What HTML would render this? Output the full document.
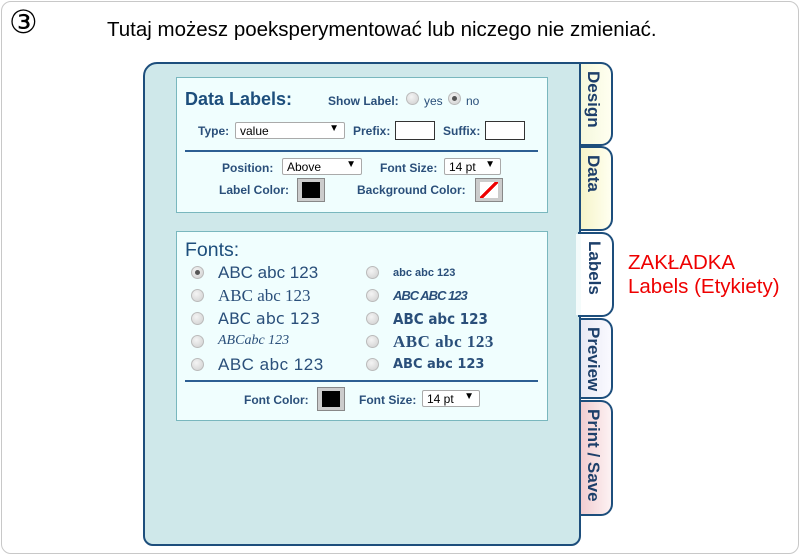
<!DOCTYPE html>
<html><head><meta charset="utf-8"><style>
*{margin:0;padding:0;box-sizing:border-box}
body{width:800px;height:555px;background:#fff;position:relative;overflow:hidden;font-family:"Liberation Sans",sans-serif}
.a{position:absolute;white-space:nowrap}
.outer{left:1px;top:1px;width:798px;height:553px;border:1px solid #c8c8c8;border-radius:10px}
.panel{left:143px;top:62px;width:438px;height:484px;background:#cfe8ea;border:2px solid #1d4e7c;border-radius:14px 0 10px 10px}
.box{background:#f0fefe;border:1px solid #79b7be}
.lbl{font-size:12px;font-weight:bold;color:#2a4f7a}
.sel{background:#fff;border:1px solid #aaa;font-size:12px;color:#000;height:17px;padding:1px 4px;border-radius:2px}
.sel span{position:absolute;right:5px;top:0;font-size:10px}
.inp{background:#fff;border:1px solid #333;height:19px}
.sw{width:28px;height:24px;background:#ccc;border:1px solid #888}
.sw i{position:absolute;left:4px;top:3px;width:18px;height:16px;background:#000}
.r{width:13px;height:13px;border-radius:50%;background:radial-gradient(circle at 40% 35%,#f4f4f4,#cfcfcf);border:1px solid #bbb}
.r.on::after{content:"";position:absolute;left:3px;top:3px;width:5px;height:5px;border-radius:50%;background:#555}
.f{font-size:17px;color:#2a4f7a}
.tab{left:577px;width:36px;border:2px solid #1d4e7c;border-left:none;border-radius:0 12px 12px 0}
.tab b{position:absolute;left:6px;top:7px;writing-mode:vertical-rl;font-size:17px;font-weight:bold;color:#1d3f6a}
</style></head><body>
<div class="a outer"></div>
<div class="a" style="left:9px;top:3px;font-size:32px;color:#000">③</div>
<div class="a" style="left:107px;top:18px;font-size:20.5px;color:#000">Tutaj możesz poeksperymentować lub niczego nie zmieniać.</div>

<div class="a tab" style="top:62px;height:84px;background:linear-gradient(90deg,#f3f7da,#fffff0)"><b>Design</b></div>
<div class="a tab" style="top:146px;height:85px;background:linear-gradient(90deg,#f4f3c4,#fffff0)"><b>Data</b></div>
<div class="a tab" style="top:318px;height:81px;background:linear-gradient(90deg,#e6e6f2,#fafaff)"><b>Preview</b></div>
<div class="a tab" style="top:400px;height:116px;background:linear-gradient(90deg,#f0c8cc,#fdf2f3)"><b>Print / Save</b></div>
<div class="a panel"></div>
<div class="a tab" style="top:232px;height:85px;background:#fff;left:578px"><b>Labels</b></div>
<div class="a" style="left:576px;top:234px;width:5px;height:81px;background:#f4fbfb"></div>

<div class="a" style="left:628px;top:251px;font-size:20.5px;color:#e00;line-height:24px">ZAKŁADKA<br>Labels (Etykiety)</div>

<div class="a box" style="left:176px;top:77px;width:372px;height:136px"></div>
<div class="a" style="left:185px;top:89px;font-size:18px;font-weight:bold;color:#1d4e7c">Data Labels:</div>
<div class="a lbl" style="left:328px;top:94px">Show Label:</div>
<div class="a r" style="left:406px;top:92px"></div>
<div class="a" style="left:424px;top:94px;font-size:12px;color:#2a4f7a">yes</div>
<div class="a r on" style="left:448px;top:92px"></div>
<div class="a" style="left:466px;top:94px;font-size:12px;color:#2a4f7a">no</div>
<div class="a lbl" style="left:198px;top:124px">Type:</div>
<div class="a sel" style="left:235px;top:122px;width:110px">value<span>▼</span></div>
<div class="a lbl" style="left:353px;top:124px">Prefix:</div>
<div class="a inp" style="left:395px;top:121px;width:40px"></div>
<div class="a lbl" style="left:443px;top:124px">Suffix:</div>
<div class="a inp" style="left:485px;top:121px;width:40px"></div>
<div class="a" style="left:185px;top:150px;width:353px;height:2px;background:#2d5f93"></div>
<div class="a lbl" style="left:222px;top:161px">Position:</div>
<div class="a sel" style="left:282px;top:158px;width:80px">Above<span>▼</span></div>
<div class="a lbl" style="left:380px;top:161px">Font Size:</div>
<div class="a sel" style="left:444px;top:158px;width:57px">14 pt<span>▼</span></div>
<div class="a lbl" style="left:219px;top:183px">Label Color:</div>
<div class="a sw" style="left:297px;top:178px"><i></i></div>
<div class="a lbl" style="left:357px;top:183px">Background Color:</div>
<div class="a sw" style="left:475px;top:178px"><i style="background:linear-gradient(135deg,#fff 44%,#e00 44%,#e00 56%,#fff 56%)"></i></div>

<div class="a box" style="left:176px;top:231px;width:372px;height:190px"></div>
<div class="a" style="left:185px;top:239px;font-size:19.5px;color:#1d4e7c">Fonts:</div>
<div class="a r on" style="left:191px;top:266px"></div>
<div class="a r" style="left:191px;top:289px"></div>
<div class="a r" style="left:191px;top:312px"></div>
<div class="a r" style="left:191px;top:335px"></div>
<div class="a r" style="left:191px;top:358px"></div>
<div class="a r" style="left:366px;top:266px"></div>
<div class="a r" style="left:366px;top:289px"></div>
<div class="a r" style="left:366px;top:312px"></div>
<div class="a r" style="left:366px;top:335px"></div>
<div class="a r" style="left:366px;top:358px"></div>
<div class="a f" style="left:218px;top:263px">ABC abc 123</div>
<div class="a f" style="left:218px;top:286px;font-family:'Liberation Serif',serif">ABC abc 123</div>
<div class="a f" style="left:218px;top:309px;font-family:'DejaVu Sans',sans-serif;font-size:16px">ABC abc 123</div>
<div class="a f" style="left:218px;top:333px;font-family:'Liberation Serif',serif;font-style:italic;font-size:14px">ABCabc 123</div>
<div class="a f" style="left:218px;top:355px;font-size:17px;letter-spacing:.5px">ABC abc 123</div>
<div class="a f" style="left:393px;top:267px;font-size:11px;font-weight:bold">abc abc 123</div>
<div class="a f" style="left:393px;top:288px;font-size:13px;font-weight:bold;font-style:italic;letter-spacing:-1px">ABC ABC 123</div>
<div class="a f" style="left:393px;top:310px;font-size:15px;font-weight:bold;font-family:'DejaVu Sans Condensed','DejaVu Sans',sans-serif">ABC abc 123</div>
<div class="a f" style="left:393px;top:332px;font-size:17px;font-weight:bold;font-family:'Liberation Serif',serif;letter-spacing:.5px">ABC abc 123</div>
<div class="a f" style="left:393px;top:357px;font-size:13px;font-weight:bold;font-family:'DejaVu Sans',sans-serif">ABC abc 123</div>
<div class="a" style="left:185px;top:380px;width:353px;height:2px;background:#2d5f93"></div>
<div class="a lbl" style="left:244px;top:393px">Font Color:</div>
<div class="a sw" style="left:317px;top:387px"><i></i></div>
<div class="a lbl" style="left:359px;top:393px">Font Size:</div>
<div class="a sel" style="left:422px;top:390px;width:58px">14 pt<span>▼</span></div>
</body></html>
